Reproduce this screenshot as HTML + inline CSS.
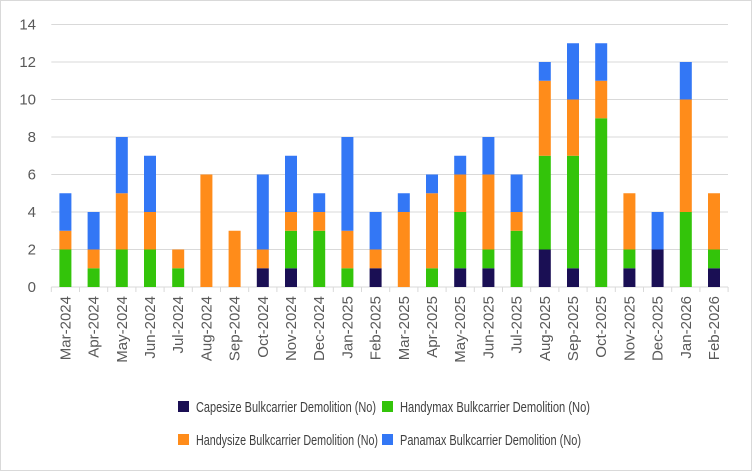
<!DOCTYPE html>
<html><head><meta charset="utf-8"><style>
body{margin:0;background:#fff}
svg{display:block;font-family:"Liberation Sans",sans-serif}
</style></head><body>
<svg width="752" height="471" viewBox="0 0 752 471">
<rect x="0.5" y="0.5" width="751" height="470" fill="#fff" stroke="#d9d9d9"/>
<g id="grid" stroke="#d9d9d9" stroke-width="1"></g>
<g id="bars"></g>
<g id="labels" font-size="15" fill="#595959"></g>
<g font-size="15" fill="#404040">
<rect x="178" y="401" width="11" height="11" fill="#1a0f54"/><text x="196" y="412" textLength="180" lengthAdjust="spacingAndGlyphs">Capesize Bulkcarrier Demolition (No)</text>
<rect x="382" y="401" width="11" height="11" fill="#33c40a"/><text x="400" y="412" textLength="190" lengthAdjust="spacingAndGlyphs">Handymax Bulkcarrier Demolition (No)</text>
<rect x="178" y="434" width="11" height="11" fill="#ff8c1a"/><text x="196" y="445" textLength="182" lengthAdjust="spacingAndGlyphs">Handysize Bulkcarrier Demolition (No)</text>
<rect x="382" y="434" width="11" height="11" fill="#3377f5"/><text x="400" y="445" textLength="181" lengthAdjust="spacingAndGlyphs">Panamax Bulkcarrier Demolition (No)</text>
</g>
</svg>
<script>
const ns="http://www.w3.org/2000/svg";
const L=51.3,W=28.2,B=287,U=18.75;
const d=[[0,2,1,2],[0,1,1,2],[0,2,3,3],[0,2,2,3],[0,1,1,0],[0,0,6,0],[0,0,3,0],[1,0,1,4],[1,2,1,3],[0,3,1,1],[0,1,2,5],[1,0,1,2],[0,0,4,1],[0,1,4,1],[1,3,2,1],[1,1,4,2],[0,3,1,2],[2,5,4,1],[1,6,3,3],[0,9,2,2],[1,1,3,0],[2,0,0,2],[0,4,6,2],[1,1,3,0]];
const names=["Mar-2024","Apr-2024","May-2024","Jun-2024","Jul-2024","Aug-2024","Sep-2024","Oct-2024","Nov-2024","Dec-2024","Jan-2025","Feb-2025","Mar-2025","Apr-2025","May-2025","Jun-2025","Jul-2025","Aug-2025","Sep-2025","Oct-2025","Nov-2025","Dec-2025","Jan-2026","Feb-2026"];
const col=["#1a0f54","#33c40a","#ff8c1a","#3377f5"];
function el(t,a,p,txt){const e=document.createElementNS(ns,t);for(const k in a)e.setAttribute(k,a[k]);if(txt!=null)e.textContent=txt;document.getElementById(p).appendChild(e);}
for(let v=0;v<=14;v+=2){const y=B-v*U;el("line",{x1:L,x2:728,y1:y,y2:y},"grid");el("text",{x:36,y:y+5,"text-anchor":"end"},"labels",v);}
for(let i=0;i<=24;i++){const x=L+i*W;el("line",{x1:x,x2:x,y1:B,y2:B+5},"grid");}
d.forEach((r,i)=>{let c=0;const x=L+i*W+W/2-6;r.forEach((v,j)=>{if(v>0){el("rect",{x:x,y:B-(c+v)*U,width:12,height:v*U,fill:col[j]},"bars");}c+=v;});
const tx=L+i*W+W/2+5;el("text",{x:tx,y:296,"text-anchor":"end",transform:`rotate(-90 ${tx} 296)`},"labels",names[i]);});
</script>
</body></html>
